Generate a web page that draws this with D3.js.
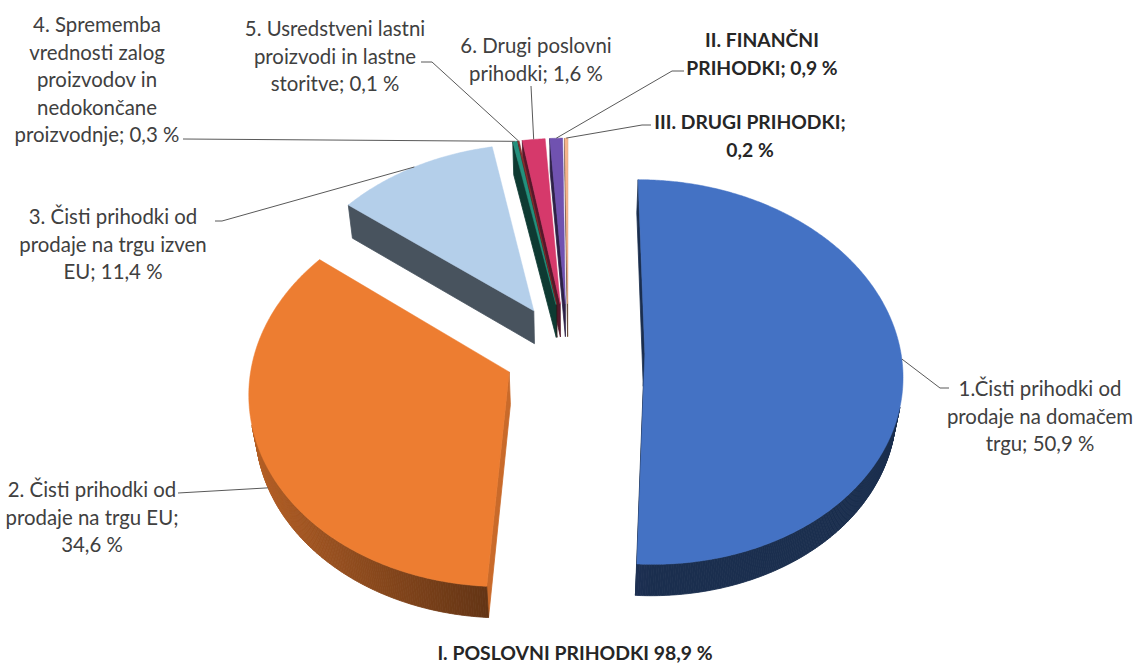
<!DOCTYPE html>
<html>
<head>
<meta charset="utf-8">
<script src="https://cdn.jsdelivr.net/npm/d3@7"></script>
<style>
  body { margin: 0; background: #fff; }
  text { font-family: Lato, "Open Sans", sans-serif; }
</style>
</head>
<body>
<div class="chart"></div>
<script>
// data
var categories = [
  '1.Čisti prihodki od prodaje na domačem trgu',
  '2. Čisti prihodki od prodaje na trgu EU',
  '3. Čisti prihodki od prodaje na trgu izven EU',
  '4. Sprememba vrednosti zalog proizvodov in nedokončane proizvodnje',
  '5. Usredstveni lastni proizvodi in lastne storitve',
  '6. Drugi poslovni prihodki',
  'II. FINANČNI PRIHODKI',
  'III. DRUGI PRIHODKI'
];
var shares = [50.9, 34.6, 11.4, 0.3, 0.1, 1.6, 0.9, 0.2];
var colors = ['#4472C4', '#ED7D31', '#B4CFEA', '#23907D', '#8B2E2E', '#D6396B', '#7052B0', '#F6B48C'];
// label text, broken into lines; {v} is replaced by the share
var labelLines = [
  ['1.Čisti prihodki od', 'prodaje na domačem', 'trgu; {v}'],
  ['2. Čisti prihodki od', 'prodaje na trgu EU;', '{v}'],
  ['3. Čisti prihodki od', 'prodaje na trgu izven', 'EU; {v}'],
  ['4. Sprememba', 'vrednosti zalog', 'proizvodov in', 'nedokončane', 'proizvodnje; {v}'],
  ['5. Usredstveni lastni', 'proizvodi in lastne', 'storitve; {v}'],
  ['6. Drugi poslovni', 'prihodki; {v}'],
  ['II. FINANČNI', 'PRIHODKI; {v}'],
  ['III. DRUGI PRIHODKI;', '{v}']
];
var boldLabels = [false, false, false, false, false, false, true, true];
var groupTitle = 'I. POSLOVNI PRIHODKI';

// layout of the labels: text centre / first baseline, leader elbow and end
var labelLayout = [
  { x: 1040, y: 396, elbow: [940, 388], end: [949, 388], anchorDown: 0 },
  { x: 92, y: 497, elbow: [178, 493], end: [178, 493], anchorDown: 1 },
  { x: 113, y: 224, elbow: [222, 221], end: [215, 221], anchorDown: 0 },
  { x: 97, y: 32, elbow: [183, 139], end: [183, 139], anchorDown: 0 },
  { x: 335, y: 36, elbow: [432, 62], end: [421, 62], anchorDown: 0 },
  { x: 536, y: 53, elbow: [531, 86], end: [531, 86], anchorDown: 0 },
  { x: 762, y: 47, elbow: [672, 71], end: [684, 71], anchorDown: 0 },
  { x: 750, y: 129, elbow: [642, 125], end: [651, 125], anchorDown: 0 }
];
var explode = [0.30, 0.25, 0.26, 0.26, 0.26, 0.26, 0.26, 0.26];

var W = 1139, H = 664;
var view = { cx: 568, cy: 352, scale: 256, dist: 7, tilt: 48 * Math.PI / 180, depth: 0.195, rotate: 0 };

var fmt = function(v) { return d3.format('.1f')(v).replace('.', ',') + ' %'; };

function project(X, Y, Z) {
  var c = Math.cos(view.tilt), s = Math.sin(view.tilt);
  var yUp = Y * c + Z * s;
  var d = view.dist + Z * c - Y * s;
  var f = view.scale * view.dist;
  return [view.cx + f * X / d, view.cy - f * yUp / d, d];
}
var cam = [0, view.dist * Math.sin(view.tilt), -view.dist * Math.cos(view.tilt)];
function facing(P, n) {
  return (cam[0] - P[0]) * n[0] + (cam[1] - P[1]) * n[1] + (cam[2] - P[2]) * n[2] > 0;
}
function shade(color, k) {
  var c = d3.rgb(color);
  return d3.rgb(c.r * k, c.g * k, c.b * k).formatHex();
}

var arcs = d3.pie().sort(null).value(function(d) { return d; })
  .startAngle(view.rotate).endAngle(view.rotate + 2 * Math.PI)(shares);

var slices = arcs.map(function(a, i) {
  var mid = (a.startAngle + a.endAngle) / 2;
  var ox = explode[i] * Math.sin(mid), oz = explode[i] * Math.cos(mid);
  var w = function(theta, r, Y) { return [ox + r * Math.sin(theta), Y, oz + r * Math.cos(theta)]; };
  return { i: i, a0: a.startAngle, a1: a.endAngle, mid: mid, w: w, color: colors[i] };
});

var svg = d3.select('.chart').append('svg').attr('width', W).attr('height', H);
var line = d3.line();
var P = function(p) { return project(p[0], p[1], p[2]); };
var xy = function(p) { var q = P(p); return [q[0], q[1]]; };

// side faces
var faces = [];
slices.forEach(function(s) {
  var h = -view.depth;
  var steps = Math.max(2, Math.ceil((s.a1 - s.a0) / (Math.PI / 360)));
  for (var k = 0; k < steps; k++) {
    var t0 = s.a0 + (s.a1 - s.a0) * k / steps, t1 = s.a0 + (s.a1 - s.a0) * (k + 1) / steps;
    var tm = (t0 + t1) / 2;
    var n = [Math.sin(tm), 0, Math.cos(tm)];
    var pts = [s.w(t0, 1, 0), s.w(t1, 1, 0), s.w(t1, 1, h), s.w(t0, 1, h)];
    if (!facing(s.w(tm, 1, h / 2), n)) continue;
    var kk = 0.4 + 0.38 * Math.max(0, -Math.sin(tm));
    faces.push({ pts: pts, fill: shade(s.color, kk), depth: d3.mean(pts, function(p) { return P(p)[2]; }) });
  }
  // cut faces
  [[s.a0, [-Math.cos(s.a0), 0, Math.sin(s.a0)]], [s.a1, [Math.cos(s.a1), 0, -Math.sin(s.a1)]]].forEach(function(e) {
    var pts = [s.w(0, 0, 0), s.w(e[0], 1, 0), s.w(e[0], 1, h), s.w(0, 0, h)];
    if (!facing(s.w(e[0], 0.5, h / 2), e[1])) return;
    var kk = 0.4 + 0.45 * Math.max(0, e[1][0]);
    faces.push({ pts: pts, fill: shade(s.color, kk), depth: d3.mean(pts, function(p) { return P(p)[2]; }) });
  });
});
faces.sort(function(a, b) { return b.depth - a.depth; });

svg.append('g').attr('class', 'sides')
  .selectAll('path')
  .data(faces)
  .enter().append('path')
  .attr('d', function(d) { return line(d.pts.map(xy)) + 'Z'; })
  .attr('fill', function(d) { return d.fill; })
  .attr('stroke', function(d) { return d.fill; })
  .attr('stroke-width', 0.8);

// top faces
svg.append('g').attr('class', 'tops')
  .selectAll('path')
  .data(slices)
  .enter().append('path')
  .attr('d', function(s) {
    var pts = [s.w(0, 0, 0)];
    var steps = Math.max(2, Math.ceil((s.a1 - s.a0) / (Math.PI / 360)));
    for (var k = 0; k <= steps; k++) pts.push(s.w(s.a0 + (s.a1 - s.a0) * k / steps, 1, 0));
    return line(pts.map(xy)) + 'Z';
  })
  .attr('fill', function(s) { return s.color; })
  .attr('stroke', function(s) { return s.color; })
  .attr('stroke-width', 0.5);

// leader lines
svg.append('g').attr('class', 'leaders')
  .selectAll('polyline')
  .data(slices)
  .enter().append('polyline')
  .attr('points', function(s) {
    var L = labelLayout[s.i];
    var a = xy(s.w(s.mid, 1, -view.depth * L.anchorDown));
    return [a, L.elbow, L.end].map(function(p) { return p.join(','); }).join(' ');
  })
  .attr('fill', 'none')
  .attr('stroke', '#595959')
  .attr('stroke-width', 1);

// labels
svg.append('g').attr('class', 'labels')
  .selectAll('text')
  .data(slices)
  .enter().append('text')
  .attr('x', function(s) { return labelLayout[s.i].x; })
  .attr('y', function(s) { return labelLayout[s.i].y; })
  .attr('text-anchor', 'middle')
  .attr('font-size', function(s) { return boldLabels[s.i] ? 19.3 : 20.4; })
  .attr('font-weight', function(s) { return boldLabels[s.i] ? 'bold' : 'normal'; })
  .attr('fill', function(s) { return boldLabels[s.i] ? '#262626' : '#404040'; })
  .each(function(s) {
    var t = d3.select(this);
    labelLines[s.i].forEach(function(ln, j) {
      t.append('tspan')
        .attr('x', labelLayout[s.i].x)
        .attr('dy', j === 0 ? 0 : 27.5)
        .text(ln.replace('{v}', fmt(shares[s.i])));
    });
  });

svg.append('text')
  .attr('x', 575)
  .attr('y', 660)
  .attr('text-anchor', 'middle')
  .attr('font-size', 19.4)
  .attr('font-weight', 'bold')
  .attr('fill', '#262626')
  .text(groupTitle + ' ' + fmt(d3.sum(shares.slice(0, 6))));
</script>
</body>
</html>
